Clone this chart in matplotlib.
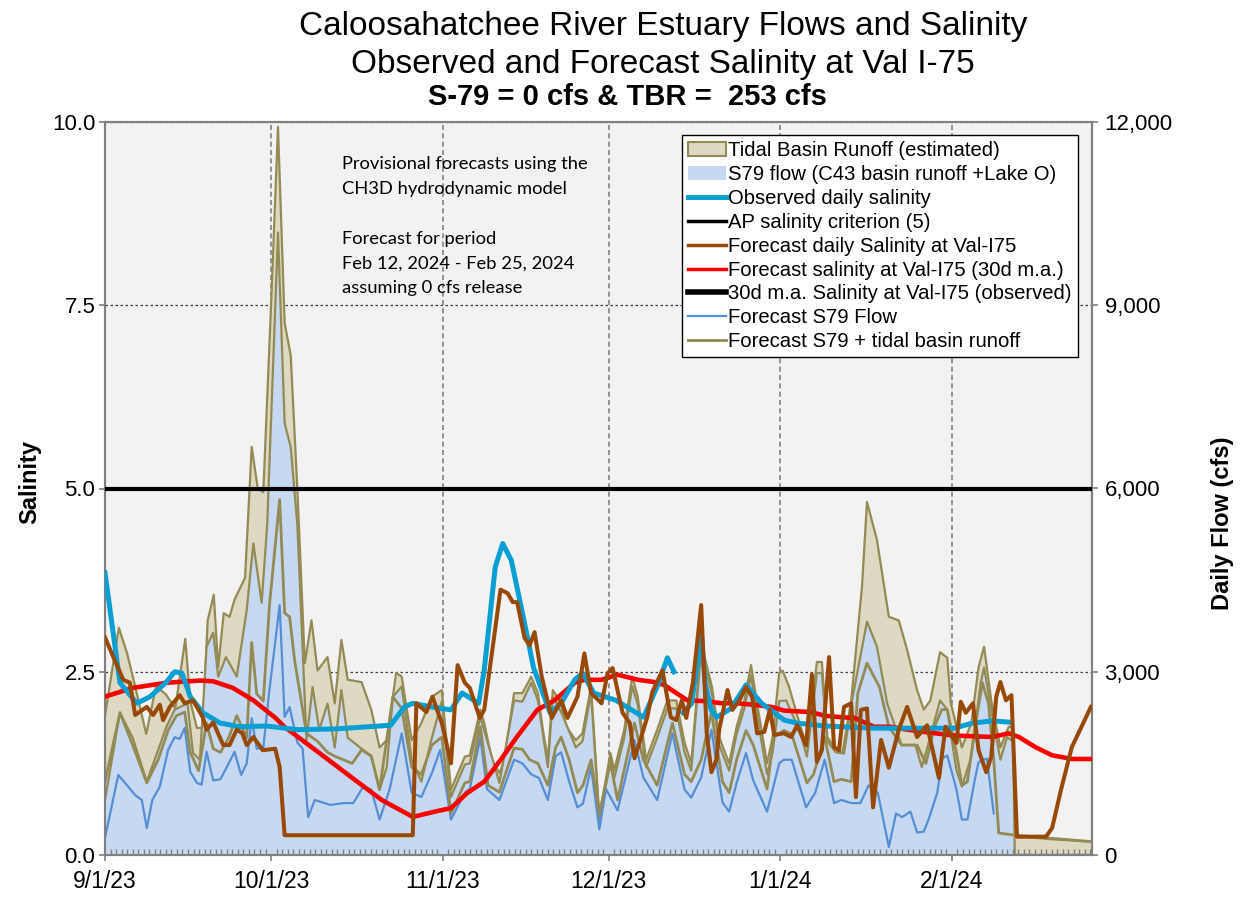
import numpy as np
import matplotlib
matplotlib.use("Agg")
import matplotlib.pyplot as plt
import matplotlib.dates as mdates
import matplotlib.ticker as mticker
from matplotlib.patches import Patch
from matplotlib.lines import Line2D
import datetime as dt

plt.rcParams['font.family'] = ['Liberation Sans', 'DejaVu Sans']

# ---- datos (dias desde 9/1/2023) ----
START = dt.date(2023, 9, 1)

obs_days = [0, 2.7, 5.75, 8.15, 11.1, 12.6, 13.9, 15.4, 17.7, 20.8, 24.3, 29.2, 34.7, 41.7, 51.6, 54.1,
            55.6, 59.0, 62.5, 64.5, 67.5, 68.5, 70.5, 71.85, 73.4, 75.8, 77.4, 80.4, 82.4, 84.85, 86.3,
            88.3, 90.3, 92.3, 97.3, 99.7, 101.6, 102.8, 103.5, 104.4, 106.0, 107.7, 108.4, 109.5, 110.5,
            113.1, 115.8, 118.6, 122.7, 125, 130, 138.9, 153.3, 156.8, 160.3, 163.7]
obs_sal = [3.85, 2.35, 2.07, 2.16, 2.36, 2.50, 2.48, 2.16, 1.94, 1.80, 1.75, 1.76, 1.71, 1.72, 1.77, 2.02,
           2.07, 2.02, 1.98, 2.21, 2.07, 2.52, 3.93, 4.25, 4.02, 3.16, 2.56, 1.94, 2.07, 2.39, 2.48,
           2.21, 2.16, 2.11, 1.88, 2.29, 2.69, 2.5, np.nan, 1.94, 2.07, 3.03, 2.35, 1.98, 1.88,
           2.0, 2.32, 2.07, 1.84, 1.80, 1.76, 1.73, 1.73, 1.80, 1.83, 1.81]

fc_days = [0, 1.5, 3.3, 4.5, 5.45, 7.55, 8.7, 9.9, 10.5, 11.7, 13.5, 14.4, 15.9, 17.65, 18.35, 19.55,
           21.35, 22.5, 23.8, 24.8, 25.6, 26.8, 28.5, 30.75, 31.55, 32.45, 55.6, 56.25, 58.05, 59.15,
           60.85, 62.5, 63.7, 65, 65.9, 67.7, 68.5, 71.45, 72.75, 73.65, 74.45, 75.8, 76.7, 77.6, 78.9,
           80.7, 82.4, 83.55, 85.35, 86.6, 87.8, 89.7, 90.8, 91.7, 93.5, 94.8, 95.65, 96.55, 97.95,
           98.85, 100.7, 102.2, 103.2, 104.2, 105, 106.2, 107.7, 108.7, 109.55, 110.45, 110.95, 112.45,
           113.35, 114.6, 115.8, 116.9, 117.8, 119.1, 120.1, 120.9, 122.65, 123.95, 125.05, 126.65,
           127.7, 128.6, 129.5, 130.8, 131.7, 132.6, 133.5, 134.8, 135.65, 136.55, 137.65, 138.75,
           140.2, 141.6, 143.4, 144.9, 146.7, 148.5, 150.65, 151.85, 153.8, 154.6, 155.5, 156.8, 157.8,
           159.2, 160.1, 161, 161.75, 162.75, 163.75, 164.75, 170, 171.1, 172.7, 174.65, 178.1]
fc_sal = [2.97, 2.70, 2.39, 2.35, 1.91, 2.02, 1.91, 2.05, 1.84, 2.02, 2.18, 2.07, 2.11, 1.88, 1.71, 1.81,
          1.50, 1.50, 1.71, 1.66, 1.50, 1.61, 1.43, 1.45, 1.20, 0.27, 0.27, 2.07, 1.95, 2.16,
          1.80, 1.25, 2.59, 2.35, 2.28, 1.87, 1.98, 3.62, 3.57, 3.45, 3.45, 2.96, 2.86, 3.04, 2.43,
          1.87, 2.11, 1.87, 2.16, 2.75, 2.21, 2.07, 2.48, 2.55, 1.94, 1.80, 1.32, 1.53, 1.88,
          2.22, 2.52, 1.88, 1.84, 2.11, 1.87, 2.35, 3.41, 1.66, 1.13, 1.30, 1.71, 2.25,
          1.98, 2.11, 2.29, 2.16, 1.66, 1.68, 1.98, 1.64, 1.66, 1.61, 1.77, 1.50,
          2.46, 1.27, 1.43, 2.70, 1.47, 1.43, 2.02, 2.07, 0.79, 1.98, 2.0, 0.65,
          1.57, 1.19, 1.71, 2.02, 1.61, 1.77, 1.05, 1.75, 1.53, 2.09, 1.94, 2.07, 1.43,
          1.13, 1.34, 2.16, 2.36, 2.11, 2.18, 0.25, 0.25, 0.37, 0.89, 1.47, 2.02]

ma_days = [0, 5, 11.1, 17.2, 19.5, 23.1, 26.8, 30.8, 32.4, 38.4, 44.7, 50, 55.6, 59.5, 62.5, 65.5, 68.5,
           71.5, 74.4, 78.1, 81.2, 84.85, 86.6, 89.7, 92.6, 96.3, 99.2, 101, 105.2, 108.2, 111.4, 114.1,
           117.1, 120.4, 122.7, 127.5, 130, 133, 135.4, 138.9, 141.9, 144.9, 147.9, 153.3, 156.8, 160.3,
           163.2, 165.1, 168.1, 171.1, 174.7, 178.1]
ma_sal = [2.16, 2.28, 2.35, 2.38, 2.37, 2.28, 2.11, 1.87, 1.75, 1.41, 1.05, 0.75, 0.52, 0.59, 0.64, 0.85, 1.0,
          1.30, 1.61, 1.98, 2.11, 2.35, 2.39, 2.39, 2.46, 2.39, 2.36, 2.32, 2.11, 2.10, 2.07, 2.07,
          2.05, 2.02, 1.97, 1.95, 1.90, 1.88, 1.87, 1.75, 1.75, 1.71, 1.68, 1.63, 1.62, 1.61,
          1.66, 1.61, 1.47, 1.36, 1.31, 1.31]

# S79 + escorrentia de la cuenca de marea (borde superior del area)
tot_days = [0, 2.5, 4, 5.45, 7.45, 9.2, 10.9, 12.7, 14.5, 15.4, 16.6, 17.65, 18.55, 19.65, 20.45, 21.45,
            22.5, 23.4, 25.3, 26.5, 27.6, 28.6, 30, 31.25, 32.45, 33.55, 34.75, 36.1, 37.3, 38.4, 40.2,
            41.5, 42.7, 43.85, 46.35, 48.1, 49.6, 50.9, 52.6, 53.6, 55.4, 57.15, 59.05, 60.85, 62.5, 65,
            65.9, 67.8, 68.5, 69.9, 71.25, 72.15, 73.9, 75.4, 77, 78.2, 79.1, 80, 80.9, 82.4, 83.35,
            85.05, 86.25, 87.8, 89.3, 91.3, 92, 93.8, 95.25, 96.25, 97.75, 99.75, 101.6, 103.2, 104.7,
            105.9, 107.7, 109.65, 110.95, 112.75, 114.1, 115.5, 116.7, 117.8, 119.6, 120.6, 121.8, 122.4,
            123.55, 125.45, 126.8, 128.6, 129.5, 130.5, 131.7, 133.2, 134.8, 136.75, 137.65, 139.45,
            141.6, 143.4, 144.9, 146.7, 147.9, 149.1, 150.85, 152.15, 152.8, 154.8, 156.5, 157.8, 158.8,
            160.1, 161.75, 163.25, 164.05, 164.35, 170.7, 178.1]
tot_cfs = [2280, 3720, 3300, 2760, 1980, 2760, 2640, 2400, 3540, 2520, 2080, 2080, 3840, 4260, 3070, 3960,
           3900, 4180, 4540, 6680, 6000, 5940, 9000, 11920, 8710, 8180, 5980, 3140, 3840, 3020, 3240,
           2480, 3520, 2870, 2830, 2380, 1760, 1880, 2980, 2920, 1880, 2160, 2590, 2700, 1070, 1610,
           1630, 2380, 2160, 1560, 1340, 1560, 2650, 2650, 2920, 2650, 2050, 1560, 2700, 2480, 2100,
           1880, 1990, 2760, 620, 1670, 1390, 2050, 2920, 2590, 1560, 2050, 2530, 2530, 1840,
           1500, 3470, 2750, 1930, 1500, 2100, 2530, 3110, 2480, 1500, 1930, 2980, 3020,
           2760, 2160, 1760, 3160, 3160, 1930, 1760, 1670, 2530, 4390, 5780, 5160,
           3900, 3840, 3360, 2700, 2380, 2530, 3320, 3230, 2480, 1760, 2160, 3070, 3410,
           2530, 1760, 2100, 2100, 310, 260, 220]

s79_days = [0, 2.7, 5, 7.55, 9.6, 11.1, 12.6, 14.9, 15.9, 17.15, 18.35, 19.55, 20.45, 21.85, 23.8, 25.6,
            26.8, 28.3, 29.3, 31.25, 32.45, 33.55, 34.75, 36.4, 37.5, 38.7, 40.2, 41.5, 42.7, 43.85,
            46.35, 48.1, 49.6, 50.9, 52, 53.6, 55.4, 57.15, 59.05, 60.85, 62.5, 65, 65.9, 67.8, 68.5,
            71.25, 73.9, 75.4, 77, 78.2, 80, 80.9, 82.4, 85.05, 86.25, 87.8, 89.3, 91.3, 92, 93.8, 95.25,
            96.25, 97.75, 99.75, 101.6, 103.2, 104.7, 105.9, 107.7, 109.65, 110.95, 112.75, 114.1, 115.5,
            116.7, 117.8, 119.6, 120.6, 121.8, 123.05, 125.45, 126.8, 128.6, 129.5, 130.5, 132, 133.5,
            134.95, 137.65, 139.45, 141.3, 143.9, 146.4, 147.55, 149.05, 150.85, 152.15, 153.8, 154.8,
            156.5, 158.2, 158.8, 160.1, 161.75, 162.95, 164.05, 164.35, 178.1]
s79_cfs = [900, 2330, 1920, 1200, 1720, 2100, 2380, 2480, 1670, 1560, 3410, 3640, 2920, 3240, 2920, 4010,
           5100, 4130, 5400, 10190, 7070, 6680, 5400, 1880, 2750, 2050, 2480, 1760, 2700, 1920,
           1740, 1620, 1070, 1440, 2590, 2760, 1560, 1200, 1920, 2520, 950, 1480, 1500, 2260, 2040,
           1180, 2530, 2510, 2820, 2530, 1440, 2590, 2340, 1760, 1860, 2650, 580, 1560, 1260, 1920, 2760,
           2460, 1440, 1920, 2400, 2400, 1680, 1380, 3360, 2640, 1800, 1380, 1980, 2400,
           2940, 2280, 1320, 1680, 2520, 2530, 2040, 1610, 2980, 2980, 1860, 1680, 1660,
           2530, 3820, 3410, 2480, 1800, 1800, 1440, 1920, 2530, 2380, 1390, 1120,
           1610, 2820, 3070, 2380, 1560, 1930, 1860, 0, 0]

fs79_days = [0, 2.4, 4, 5.45, 6.65, 7.55, 8.55, 9.9, 11.4, 12.6, 13.5, 14.4, 15.4, 16.6, 17.45, 18.35,
             19.55, 20.85, 22.35, 23.4, 24.6, 25.6, 26.5, 27.4, 28.6, 29.7, 31.55, 32.45, 33.35, 34.75,
             35.7, 36.7, 37.9, 40.7, 43.15, 44.85, 46.65, 48.1, 49.6, 51.4, 53.6, 55.4, 57.15, 59.05,
             60.55, 62.5, 65, 65.9, 67.8, 69, 71.25, 73.9, 75.4, 77, 78.4, 80, 81.4, 82.4, 83.85, 85.35,
             86.35, 87.8, 89.3, 90.5, 92.6, 95.65, 97.25, 99.75, 102.5, 104.7, 105.9, 107.7, 109.55,
             111.55, 112.75, 114.1, 115.8, 117.1, 119.6, 121.8, 122.65, 124.05, 126.65, 128.3, 130,
             131.7, 133, 134.8, 136.45, 137.95, 139.6, 141.6, 142.9, 144, 145.5, 146.7, 147.9, 148.85,
             150.35, 151.25, 152.15, 153.8, 154.8, 155.8, 157.1, 157.8, 159.3, 160.55, 161.0, 164.35, 178.1]
fs79_cfs = [280, 1310, 1140, 980, 900, 440, 900, 1120, 1720, 1930, 1900, 2080, 1360, 1180, 1150, 1690,
            1220, 1240, 1500, 1690, 1310, 1500, 2240, 1740, 1760, 2700, 4090, 2260, 2420, 1840,
            1740, 620, 900, 820, 850, 850, 1120, 1070, 580, 1070, 1990, 1020, 950, 1340,
            1720, 580, 1020, 1080, 1920, 1080, 900, 1560, 1500, 1320, 1260, 900, 1620, 1680, 1200, 780,
            840, 1440, 420, 1080, 730, 1880, 1270, 900, 1990, 1070, 940, 1270, 2050,
            860, 710, 1180, 1670, 1220, 710, 1500, 1560, 1560, 780, 1020, 1560,
            850, 900, 850, 850, 1140, 1020, 130, 680, 620, 710, 370, 380, 600,
            1020, 1580, 1630, 1080, 580, 580, 1220, 1520, 1580, 680, np.nan, 0, 0]

ftot_days = [0, 2.7, 5, 7.55, 9.6, 11.4, 12.9, 14.4, 15.4, 16.9, 18.35, 19.55, 20.85, 22.35, 23.8, 25.6,
             26.5, 27.4, 28.6, 29.7, 31.55, 32.45, 33.35, 34.25, 36.4, 38.4, 40.2, 41.7, 44.65, 46.35,
             48.1, 49.6, 52, 53.6, 55.4, 57.15, 59.05, 60.85, 62.5, 65, 65.9, 67.8, 69.2, 71.25, 73.9,
             75.4, 76.7, 78.2, 80, 81.4, 82.4, 83.85, 85.35, 86.35, 87.8, 89.3, 91.3, 92.6, 95.65, 97.25,
             99.75, 102.5, 104.7, 105.9, 107.7, 109.55, 111.55, 112.75, 114.1, 115.8, 117.1, 119.6, 120.8,
             122.65, 124.05, 126.8, 128, 130, 131.7, 133, 134.8, 136, 137.65, 139.9, 141.6, 143.9, 146.7,
             148.3, 149.85, 151.15, 152.15, 153.8, 154.8, 155.8, 157.1, 158.5, 159.6, 160.55, 161.45,
             164.75, 178.1]
ftot_cfs = [1200, 2330, 1800, 1180, 1560, 2040, 2280, 2340, 1680, 1380, 2160, 1740, 1680, 1920, 2280, 1920,
            3480, 2640, 2520, 4080, 5820, 3960, 3900, 3190, 1990, 1860, 1680, 1610, 1500, 1720,
            1620, 1070, 2590, 2400, 1440, 1320, 1800, 1930, 680, 1180, 1200, 2100, 1140, 1030, 1750,
            1730, 1560, 1500, 1140, 1760, 1930, 1560, 1020, 1140, 1560, 680, 1510, 900, 2160, 1560,
            1140, 2160, 1320, 1200, 1560, 2340, 1200, 1020, 1560, 2040, 1800, 1080, 1930,
            2040, 1980, 1180, 1320, 1930, 1200, 1240, 1200, 2650, 3140, 2750, 2100, 1800, 1800,
            1500, 2100, 2380, 2380, 1680, 1140, 1200, 2050, 2820, 2480, 1560, 360,
            320, 220]

# ---- colores ----
TAN = "#DDD9C3"
OLIVE = "#948A54"
LBLUE = "#C6D9F1"
TBLUE = "#558ED5"
CYAN = "#0A9FD3"
BROWN = "#984807"
RED = "#FF0000"

x0 = mdates.date2num(START)
def xs(days):
    return x0 + np.asarray(days, dtype=float)

fig = plt.figure(figsize=(12.42, 9.01), dpi=100)
ax = fig.add_axes([105/1242, 1-855/901, 987/1242, 733/901])
ax2 = ax.twinx()
ax.set_zorder(2)
ax2.set_zorder(1)
ax.patch.set_visible(False)
ax2.patch.set_visible(True)
ax2.patch.set_facecolor("#F2F2F2")

# areas de caudal (eje derecho)
ax2.fill_between(xs(tot_days), 0, tot_cfs, color=TAN, lw=0, zorder=2)
ax2.plot(xs(tot_days), tot_cfs, color=OLIVE, lw=1.6, zorder=3)
ax2.fill_between(xs(s79_days), 0, s79_cfs, color=LBLUE, lw=0, zorder=4)
ax2.plot(xs(s79_days), s79_cfs, color=OLIVE, lw=1.6, zorder=5)
ax2.plot(xs(fs79_days), fs79_cfs, color=TBLUE, lw=1.6, zorder=6)
ax2.plot(xs(ftot_days), ftot_cfs, color=OLIVE, lw=2.0, zorder=7)

# salinidad (eje izquierdo)
ax.axhline(5, color="black", lw=3.0, zorder=3)
ax.plot(xs(ma_days), ma_sal, color=RED, lw=3.3, zorder=4)
ax.plot(xs(obs_days), obs_sal, color=CYAN, lw=3.6, zorder=5)
ax.plot(xs(fc_days), fc_sal, color=BROWN, lw=2.9, zorder=6)

# ejes
ax.set_xlim(x0, x0 + 178.3)
ax.set_ylim(0, 10)
ax2.set_ylim(0, 12000)
ax.set_yticks([0, 2.5, 5, 7.5, 10])
ax.yaxis.set_major_formatter(mticker.FormatStrFormatter("%.1f"))
ax2.set_yticks([0, 3000, 6000, 9000, 12000])
ax2.yaxis.set_major_formatter(mticker.FuncFormatter(lambda v, p: f"{v:,.0f}"))

ax.xaxis.set_major_locator(mdates.MonthLocator())
ax.xaxis.set_major_formatter(mdates.DateFormatter("%-m/%-d/%y"))
ax.xaxis.set_minor_locator(mdates.DayLocator())
ax2.xaxis.set_visible(True)
ax2.tick_params(axis="x", which="both", bottom=False, labelbottom=False, top=False)

ax.tick_params(axis="x", which="major", direction="out", length=4, width=1.2, color="#808080",
               labelsize=16.5, pad=7)
ax.tick_params(axis="x", which="minor", direction="in", length=4, width=1, color="#808080")
ax.tick_params(axis="y", direction="out", length=4, width=1.2, color="#808080", labelsize=16, pad=3)
ax2.tick_params(axis="y", direction="out", length=4, width=1.2, color="#808080", labelsize=16, pad=5)

for a in (ax, ax2):
    for s in a.spines.values():
        s.set_color("#808080")
        s.set_linewidth(1.5)

ax2.set_axisbelow(True)
ax2.grid(axis="y", color="#404040", linestyle=(0, (2, 2)), lw=0.9)
ax2.grid(axis="x", color="#808080", linestyle=(0, (3, 2)), lw=1.2)

fig.text(30/1242, 1-482/901, "Salinity", rotation=90, fontsize=17, fontweight="bold",
         ha="center", va="center")
fig.text(1222/1242, 1-523/901, "Daily Flow (cfs)", rotation=90, fontsize=17, fontweight="bold",
         ha="center", va="center")

# titulos
fig.text(663/1242, 1-35/901, "Caloosahatchee River Estuary Flows and Salinity", fontsize=24,
         ha="center", va="baseline")
fig.text(663/1242, 1-73/901, "Observed and Forecast Salinity at Val I-75", fontsize=24,
         ha="center", va="baseline")
fig.text(627/1242, 1-105/901, "S-79 = 0 cfs & TBR =  253 cfs", fontsize=21, fontweight="bold",
         ha="center", va="baseline")

ax.text(0.240, 0.953, "Provisional forecasts using the\nCH3D hydrodynamic model\n\nForecast for period\n"
        "Feb 12, 2024 - Feb 25, 2024\nassuming 0 cfs release", transform=ax.transAxes,
        fontsize=13.2, family="Lato", va="top", ha="left", linespacing=1.67, zorder=10)

handles = [
    Patch(facecolor=TAN, edgecolor=OLIVE, lw=1.5),
    Patch(facecolor=LBLUE, edgecolor="none"),
    Line2D([], [], color=CYAN, lw=3.6),
    Line2D([], [], color="black", lw=2.5),
    Line2D([], [], color=BROWN, lw=2.5),
    Line2D([], [], color=RED, lw=2.5),
    Line2D([], [], color="black", lw=4),
    Line2D([], [], color=TBLUE, lw=1.6),
    Line2D([], [], color=OLIVE, lw=2.0),
]
labels = [
    "Tidal Basin Runoff (estimated)",
    "S79 flow (C43 basin runoff +Lake O)",
    "Observed daily salinity",
    "AP salinity criterion (5)",
    "Forecast daily Salinity at Val-I75",
    "Forecast salinity at Val-I75 (30d m.a.)",
    "30d m.a. Salinity at Val-I75 (observed)",
    "Forecast S79 Flow",
    "Forecast S79 + tidal basin runoff",
]
leg = ax.legend(handles, labels, loc="upper right", bbox_to_anchor=(0.9858, 0.982), fontsize=14.6,
                frameon=True, fancybox=False, edgecolor="black", framealpha=1, borderpad=0.3,
                labelspacing=0.24, handlelength=1.9, handletextpad=0.1, borderaxespad=0)
leg.get_frame().set_linewidth(1.0)
leg.set_zorder(20)

fig.savefig("out.png", dpi=100)
